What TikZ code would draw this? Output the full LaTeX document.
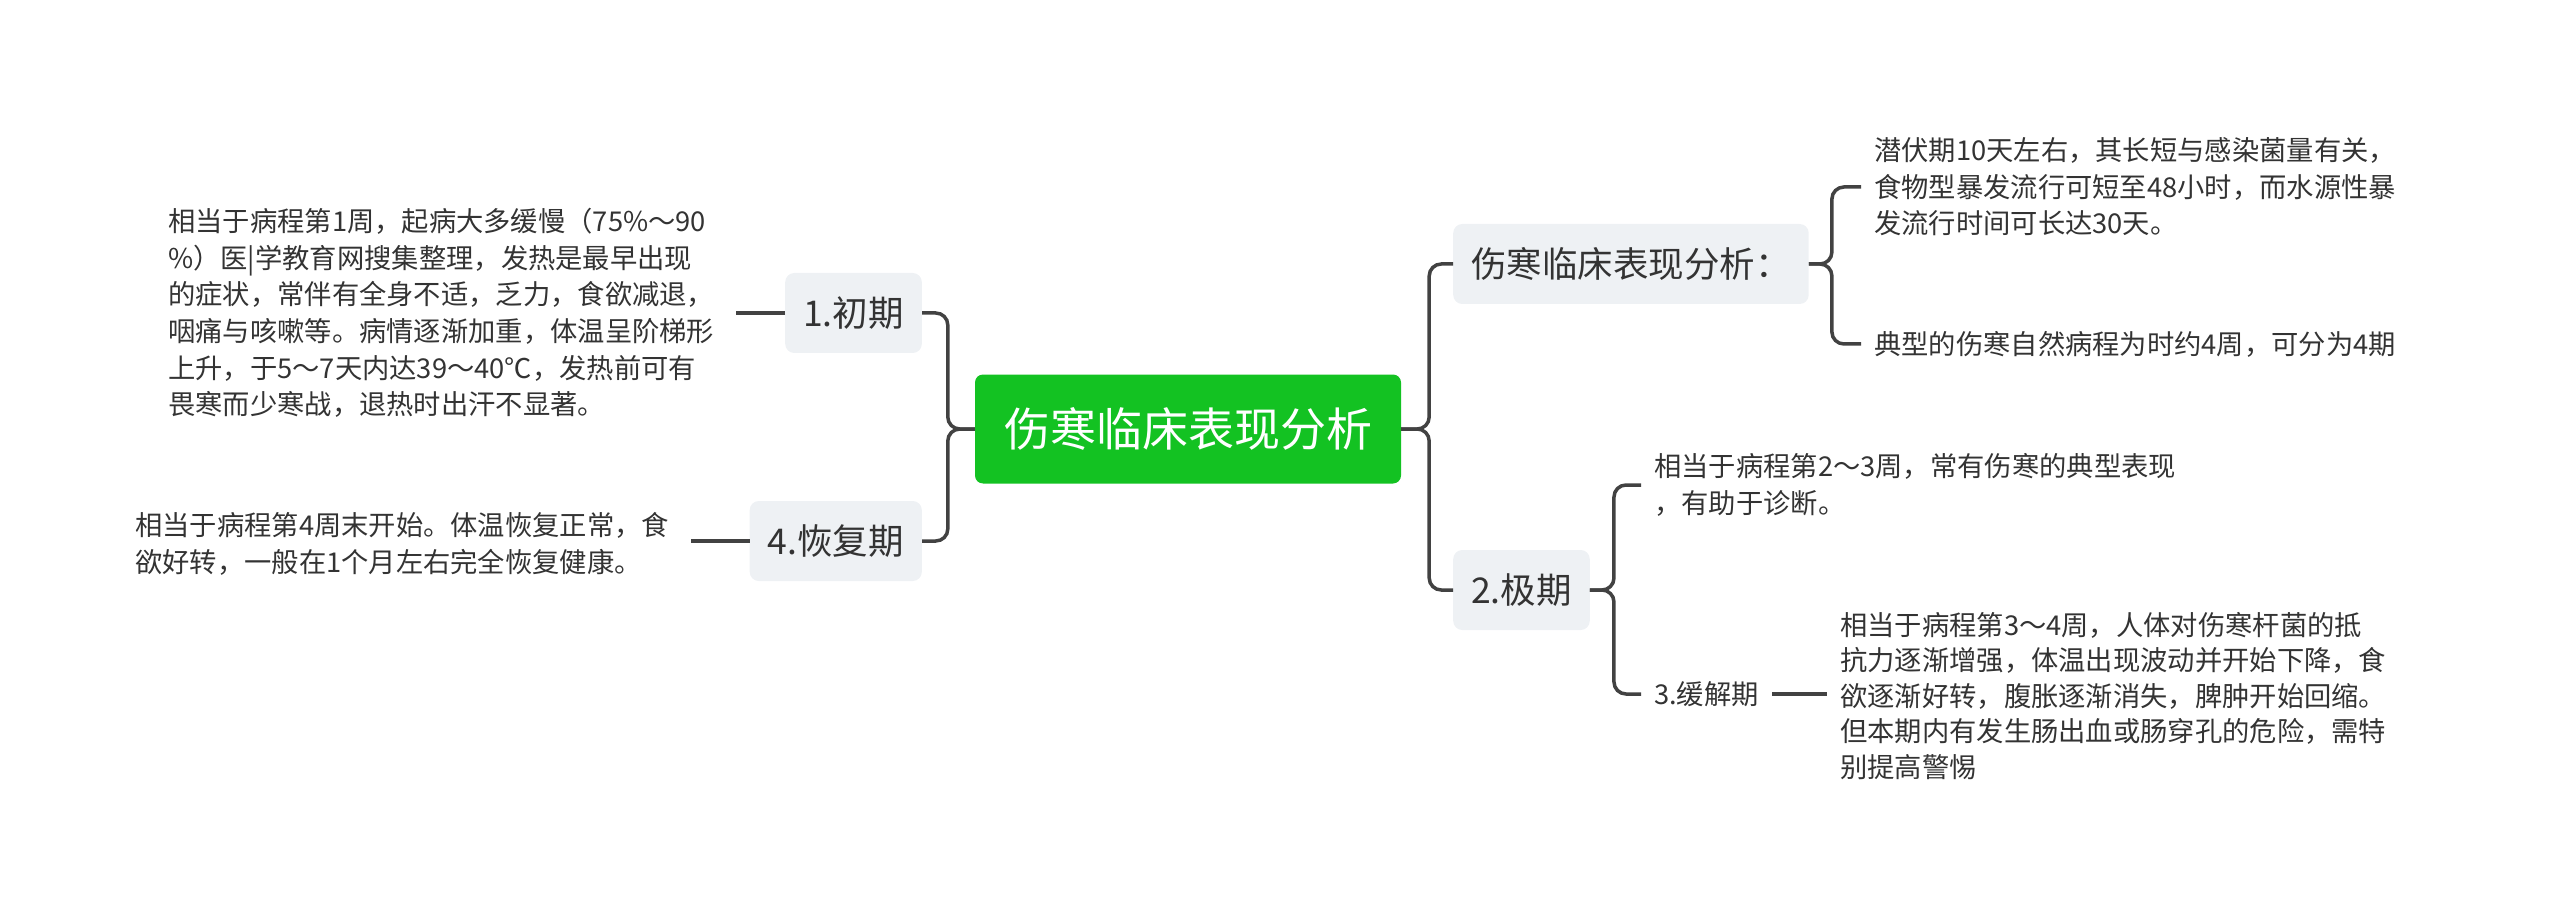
\documentclass[tikz,border=0pt]{standalone}
\usepackage{fontspec}
\usepackage{xcolor}
\usetikzlibrary{positioning}
\newfontfamily\cjk{Noto Sans CJK SC}
\definecolor{ink}{HTML}{333333}
\definecolor{wire}{HTML}{424242}
\definecolor{leaf}{HTML}{EEF1F4}
\definecolor{root}{HTML}{13C222}

\begin{document}
\begin{tikzpicture}[
  x=1pt, y=-1pt,
  font=\cjk,
  rootbox/.style={
    fill=root,
    rounded corners=8pt,
    minimum width=426pt,
    minimum height=109pt,
    text=white,
    font=\cjk\fontsize{46}{50}\selectfont
  },
  topic/.style={
    fill=leaf,
    rounded corners=9pt,
    minimum height=80pt,
    inner xsep=18pt,
    text=ink,
    font=\cjk\fontsize{35.5}{40}\selectfont
  },
  txt/.style={
    align=left,
    inner xsep=13pt,
    inner ysep=0pt,
    text=ink,
    font=\cjk\fontsize{27.3}{36.6}\selectfont
  },
  ltxt/.style={txt, inner xsep=22pt},
  link/.style={draw=wire, line width=3.5pt, rounded corners=12pt}
]

\path[use as bounding box] (0,0) rectangle (2560,917);

\node[rootbox] (center) at (1188,429) {伤寒临床表现分析};

% left branch
\node[topic, anchor=east] (early) at (922,313) {1.初期};
\node[topic, anchor=east] (recover) at (922,541) {4.恢复期};

\node[ltxt, anchor=west] (earlytxt) at (146,313) {
  相当于病程第1周，起病大多缓慢（75\%～90\\
  \%）医|学教育网搜集整理，发热是最早出现\\
  的症状，常伴有全身不适，乏力，食欲减退，\\
  咽痛与咳嗽等。病情逐渐加重，体温呈阶梯形\\
  上升，于5～7天内达39～40℃，发热前可有\\
  畏寒而少寒战，退热时出汗不显著。};
\node[ltxt, anchor=west] (recovertxt) at (113,544) {
  相当于病程第4周末开始。体温恢复正常，食\\
  欲好转，一般在1个月左右完全恢复健康。};

% right branch
\node[topic, anchor=west] (analysis) at (1453,264) {伤寒临床表现分析：};
\node[topic, anchor=west] (peak) at (1453,590) {2.极期};

\node[txt, anchor=west] (incub) at (1861,187) {
  潜伏期10天左右，其长短与感染菌量有关，\\
  食物型暴发流行可短至48小时，而水源性暴\\
  发流行时间可长达30天。};
\node[txt, anchor=west] (course) at (1861,344) {典型的伤寒自然病程为时约4周，可分为4期};

\node[txt, anchor=west] (peaktxt) at (1641,485) {
  相当于病程第2～3周，常有伤寒的典型表现\\
  ，有助于诊断。};
\node[txt, anchor=west] (remit) at (1641,694) {3.缓解期};
\node[txt, anchor=west, font=\cjk\fontsize{27.3}{35.5}\selectfont] (remittxt) at (1827,696) {
  相当于病程第3～4周，人体对伤寒杆菌的抵\\
  抗力逐渐增强，体温出现波动并开始下降，食\\
  欲逐渐好转，腹胀逐渐消失，脾肿开始回缩。\\
  但本期内有发生肠出血或肠穿孔的危险，需特\\
  别提高警惕};

\draw[link] (center.west) -- ++(-27,0) |- (early.east);
\draw[link] (center.west) -- ++(-27,0) |- (recover.east);
\draw[link] (early.west) -- (earlytxt.east |- early.west);
\draw[link] (recover.west) -- (recovertxt.east |- recover.west);

\draw[link] (center.east) -- ++(28,0) |- (analysis.west);
\draw[link] (center.east) -- ++(28,0) |- (peak.west);
\draw[link] (analysis.east) -- ++(23,0) |- (incub.west);
\draw[link] (analysis.east) -- ++(23,0) |- (course.west);
\draw[link] (peak.east) -- ++(24,0) |- (peaktxt.west);
\draw[link] (peak.east) -- ++(24,0) |- (remit.west);
\draw[link] (remit.east) -- (remittxt.west |- remit.east);

\end{tikzpicture}
\end{document}
